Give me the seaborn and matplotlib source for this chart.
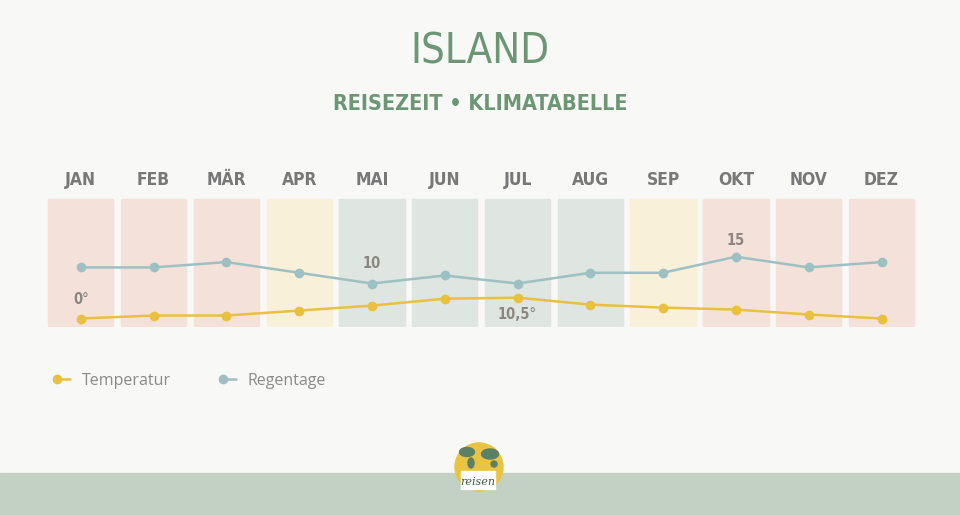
import numpy as np
import matplotlib
matplotlib.use("Agg")
import matplotlib.pyplot as plt
import seaborn as sns
from matplotlib import font_manager
from matplotlib.lines import Line2D
from matplotlib.patches import Rectangle, Ellipse
from matplotlib.legend_handler import HandlerLine2D

monate = ['JAN', 'FEB', 'MÄR', 'APR', 'MAI', 'JUN', 'JUL', 'AUG', 'SEP', 'OKT', 'NOV', 'DEZ']
temperatur = [0, 1.5, 1.5, 4, 6.5, 10, 10.5, 7, 5.5, 4.5, 2, 0]
regentage = [13, 13, 14, 12, 10, 11.5, 10, 12, 12, 15, 13, 14]
reisezeit = ['schlecht', 'schlecht', 'schlecht', 'mittel', 'gut', 'gut',
             'gut', 'gut', 'mittel', 'schlecht', 'schlecht', 'schlecht']

farben_zeit = {'schlecht': '#f4e2da', 'mittel': '#f8f0d9', 'gut': '#dfe5e0'}
gelb = '#e9c040'
blau = '#9dc0c3'
gruen = '#6c9674'
grau = '#787878'

sns.set_theme(style='white')
plt.rcParams['font.family'] = ['DejaVu Sans']

# schmale Schrift suchen
fonts = font_manager.fontManager.ttflist
namen = {f.name for f in fonts}
if 'Liberation Sans Narrow' in namen:
    schmal = dict(family='Liberation Sans Narrow')
else:
    schmal = dict(family='DejaVu Sans', stretch='condensed')

W, H = 960, 515
fig = plt.figure(figsize=(W / 100, H / 100), dpi=100)
fig.patch.set_facecolor('#f8f8f7')


def px(x0, y0, x1, y1):
    return [x0 / W, 1 - y1 / H, (x1 - x0) / W, (y1 - y0) / H]


pos = px(44.4, 198.3, 917.9, 326.7)
ax_bg = fig.add_axes(pos)
ax_t = fig.add_axes(pos)
ax_r = ax_t.twinx()

# Hintergrundkacheln pro Monat
df_bg = {'monat': monate, 'h': [0.98] * 12, 'zeit': reisezeit}
sns.barplot(x='monat', y='h', hue='zeit', data=df_bg, palette=farben_zeit,
            ax=ax_bg, width=0.87, saturation=1, legend=False, dodge=False)
for p in ax_bg.patches:
    p.set_y(0.01)
    p.set_edgecolor(p.get_facecolor())
    p.set_linewidth(2.5)
    p.set_joinstyle('round')
ax_bg.set_xlim(-0.5, 11.5)
ax_bg.set_ylim(0, 1)
ax_bg.set_facecolor('none')
ax_bg.xaxis.tick_top()
ax_bg.set_xticks(range(12))
ax_bg.set_xticklabels(monate, color=grau, fontsize=12.5, fontweight='bold', **schmal)
ax_bg.tick_params(axis='x', length=0, pad=7)
ax_bg.set_yticks([])
ax_bg.set_xlabel('')
ax_bg.set_ylabel('')

x = np.arange(12)
sns.lineplot(x=x, y=temperatur, ax=ax_t, color=gelb, linewidth=1.8,
             marker='o', markersize=7, markeredgewidth=0)
sns.lineplot(x=x, y=regentage, ax=ax_r, color=blau, linewidth=1.8,
             marker='o', markersize=7, markeredgewidth=0)
ax_t.set_xlim(-0.5, 11.5)
ax_t.set_ylim(-4.14, 60.7)
ax_r.set_ylim(1.94, 25.9)

for a in (ax_bg, ax_t, ax_r):
    for s in a.spines.values():
        s.set_visible(False)
    a.set_facecolor('none')
for a in (ax_t, ax_r):
    a.set_xticks([])
    a.set_yticks([])
    a.set_ylabel('')


def fmt(v):
    return f'{v:g}'.replace('.', ',')


lab = dict(color='#8c8681', fontsize=10.5, fontweight='bold', ha='center', va='center',
           textcoords='offset points', **schmal)
i_min, i_max = int(np.argmin(temperatur)), int(np.argmax(temperatur))
ax_t.annotate(fmt(temperatur[i_min]) + '°', (i_min, temperatur[i_min]), xytext=(0, 14), **lab)
ax_t.annotate(fmt(temperatur[i_max]) + '°', (i_max, temperatur[i_max]), xytext=(0, -12), **lab)
j_min, j_max = int(np.argmin(regentage)), int(np.argmax(regentage))
ax_r.annotate(fmt(regentage[j_min]), (j_min, regentage[j_min]), xytext=(0, 14.5), **lab)
ax_r.annotate(fmt(regentage[j_max]), (j_max, regentage[j_max]), xytext=(0, 12), **lab)

# Titel
fig.text(480 / W, 1 - 52 / H, 'ISLAND', color=gruen, fontsize=30, fontweight='light',
         ha='center', va='center', **schmal)
fig.text(480 / W, 1 - 103.5 / H, 'REISEZEIT • KLIMATABELLE', color=gruen, fontsize=15.5,
         fontweight='bold', ha='center', va='center', **schmal)


# Legende mit Punkt am linken Ende der Linie
class PunktLinks(HandlerLine2D):
    def create_artists(self, legend, orig_handle, xdescent, ydescent, width, height,
                       fontsize, trans):
        y = (height - ydescent) / 2
        line = Line2D([-xdescent, -xdescent + width], [y, y])
        self.update_prop(line, orig_handle, legend)
        line.set_markevery([0])
        line.set_transform(trans)
        return [line]


handles = [Line2D([], [], color=gelb, linewidth=1.8, marker='o', markersize=7, markeredgewidth=0),
           Line2D([], [], color=blau, linewidth=1.8, marker='o', markersize=7, markeredgewidth=0)]
leg = fig.legend(handles, ['Temperatur', 'Regentage'], loc='center left',
                 bbox_to_anchor=(57 / W, 1 - 381 / H), ncol=2, frameon=False,
                 borderpad=0, borderaxespad=0, handlelength=0.8, handletextpad=0.75,
                 columnspacing=3.25,
                 prop=dict(family='Open Sans', size=11.5),
                 handler_map={Line2D: PunktLinks()})
for t in leg.get_texts():
    t.set_color('#8a8a8a')

# Fussleiste und Logo
fig.add_artist(Rectangle((0, 0), 1, 42 / H, transform=fig.transFigure,
                         color='#c3d1c5', zorder=0))
fig.add_artist(Ellipse((479 / W, 1 - 467 / H), 48 / W, 48 / H, transform=fig.transFigure,
                       color='#e9c342', zorder=1))
for cx, cy, w, h in [(467, 452, 15, 9), (490, 454, 17, 10), (471, 463, 6, 10), (494, 464, 6, 6)]:
    fig.add_artist(Ellipse((cx / W, 1 - cy / H), w / W, h / H, transform=fig.transFigure,
                           color='#5b8064', zorder=2))
fig.add_artist(Rectangle((461 / W, 1 - 489 / H), 34 / W, 18 / H, transform=fig.transFigure,
                         color='white', zorder=3))
fig.text(478 / W, 1 - 482 / H, 'reisen', color='#3d5c48', fontsize=8, style='italic',
         ha='center', va='center', zorder=4, family='DejaVu Serif')

fig.savefig('out.png', dpi=100, facecolor=fig.get_facecolor())
